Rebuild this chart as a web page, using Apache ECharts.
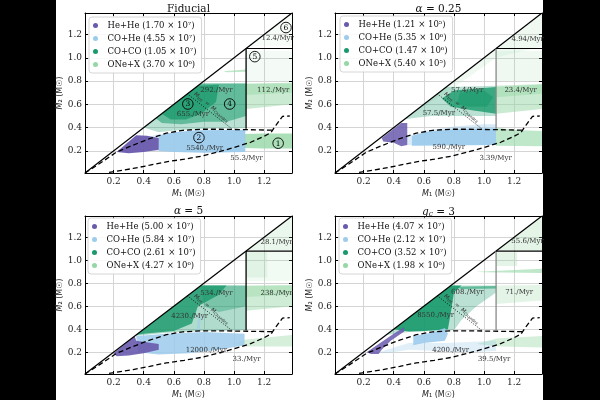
<!DOCTYPE html>
<html>
<head>
<meta charset="utf-8">
<script src="https://cdn.jsdelivr.net/npm/echarts@6/dist/echarts.min.js"></script>
<style>
html,body{margin:0;padding:0;background:#000;}
#paper{position:absolute;left:56px;top:0;width:487px;height:400px;background:#fff;}
#main{position:absolute;left:0;top:0;width:600px;height:400px;}
</style>
</head>
<body>
<div id="paper"></div>
<div id="main"></div>
<script>
// ---- data ----
var titles = ['Fiducial', '{i|α} = 0.25', '{i|α} = 5', '{i|q}{s|c} = 3'];
var popNames = ['He+He', 'CO+He', 'CO+CO', 'ONe+X'];
var popCounts = [
  ['1.70 × 10⁷', '4.55 × 10⁷', '1.05 × 10⁷', '3.70 × 10⁶'],
  ['1.21 × 10⁵', '5.35 × 10⁶', '1.47 × 10⁶', '5.40 × 10⁵'],
  ['5.00 × 10⁷', '5.84 × 10⁷', '2.61 × 10⁷', '4.27 × 10⁶'],
  ['4.07 × 10⁷', '2.12 × 10⁷', '3.52 × 10⁷', '1.98 × 10⁶']
];

// boundaries shared by all panels
var diagonal = [[0.01, 0.01], [1.385, 1.385]];
var upperBound = [[0.01, 0.01], [0.1, 0.085], [0.22, 0.19], [0.33, 0.25], [0.44, 0.305], [0.55, 0.352], [0.66, 0.377], [0.78, 0.386], [0.9, 0.386], [1.1, 0.382], [1.27, 0.378]];
var lowerBound = [[0.17, 0.015], [0.33, 0.049], [0.44, 0.077], [0.55, 0.106], [0.67, 0.129], [0.78, 0.154], [0.89, 0.19], [1.0, 0.229], [1.11, 0.274], [1.2, 0.326], [1.245, 0.357], [1.278, 0.42], [1.322, 0.497], [1.37, 0.5]];
var chandraLine = [[0.69, 0.69], [0.99, 0.385]];
var boxVert = [[1.08, 0.39], [1.08, 1.08]];
var boxHorz = [[1.08, 1.08], [1.385, 1.08]];
var chandraText = [0.85, 0.575];

// Fiducial regions
var fidONeLow = [[1.065, 0.225], [1.065, 0.345], [1.2, 0.35], [1.385, 0.35], [1.385, 0.22], [1.2, 0.22]];
var fidONeHigh = [[1.08, 0.56], [1.08, 0.78], [1.385, 0.785], [1.385, 0.6]];
var fidONeTop = [[1.08, 0.68], [1.08, 0.775], [1.385, 0.78], [1.385, 0.7]];
var fidONeBox = [[1.08, 0.8], [1.08, 1.06], [1.385, 1.06], [1.385, 0.8]];
var fidONeStreak = [[0.93, 0.885], [1.08, 0.9], [1.08, 0.88], [0.95, 0.875]];
var fidONeCorner = [[1.1, 1.1], [1.385, 1.385], [1.385, 1.1]];
var fidCOCOWide = [[0.4, 0.4], [0.78, 0.78], [1.08, 0.78], [1.08, 0.395], [0.8, 0.39], [0.6, 0.375], [0.5, 0.36]];
var fidCOCOMid = [[0.48, 0.48], [0.78, 0.78], [1.08, 0.78], [1.08, 0.5], [0.95, 0.45], [0.8, 0.45], [0.65, 0.43], [0.52, 0.44]];
var fidCOCOCore = [[0.52, 0.52], [0.76, 0.76], [0.9, 0.77], [0.88, 0.62], [0.78, 0.52], [0.68, 0.47], [0.58, 0.47]];
var fidCOHeFaint = [[0.28, 0.27], [0.5, 0.345], [0.5, 0.2], [0.34, 0.2]];
var fidCOHeMain = [[0.5, 0.335], [0.6, 0.36], [0.75, 0.377], [1.075, 0.382], [1.075, 0.19], [0.8, 0.185], [0.6, 0.19], [0.5, 0.2]];
var fidHeHe = [[0.22, 0.19], [0.35, 0.335], [0.42, 0.33], [0.5, 0.31], [0.5, 0.21], [0.4, 0.19], [0.3, 0.18]];

// alpha = 0.25 regions
var a025ONeLow = [[1.08, 0.245], [1.08, 0.4], [1.2, 0.38], [1.385, 0.37], [1.385, 0.24]];
var a025ONeHigh = [[1.08, 0.52], [1.08, 0.76], [1.385, 0.775], [1.385, 0.56]];
var a025ONeTop = [[1.08, 0.66], [1.08, 0.75], [1.385, 0.77], [1.385, 0.69]];
var a025ONeBox = [[1.08, 0.8], [1.08, 1.06], [1.385, 1.06], [1.385, 0.8]];
var a025ONeDiag = [[0.55, 0.55], [1.385, 1.385], [1.385, 1.1], [1.08, 1.0], [0.75, 0.7]];
var a025COCOWide = [[0.47, 0.47], [0.75, 0.75], [1.08, 0.76], [1.08, 0.5], [0.85, 0.5], [0.65, 0.5], [0.52, 0.48]];
var a025COCOCore = [[0.72, 0.65], [0.8, 0.72], [1.08, 0.75], [1.08, 0.52], [0.92, 0.55], [0.78, 0.58]];
var a025COCODense = [[0.82, 0.6], [0.84, 0.7], [1.0, 0.72], [1.06, 0.66], [1.02, 0.58], [0.9, 0.58]];
var a025COHeUpper = [[0.6, 0.37], [0.8, 0.41], [1.0, 0.43], [1.08, 0.43], [1.08, 0.38], [0.6, 0.35]];
var a025COHeMain = [[0.52, 0.33], [0.6, 0.36], [0.8, 0.385], [1.08, 0.395], [1.08, 0.25], [0.52, 0.245]];
var a025COHeLeft = [[0.42, 0.29], [0.52, 0.34], [0.52, 0.25], [0.45, 0.25]];
var a025HeHe = [[0.32, 0.31], [0.45, 0.44], [0.49, 0.44], [0.49, 0.25], [0.45, 0.24], [0.4, 0.27], [0.33, 0.28]];

// alpha = 5 regions
var a5ONeLow = [[1.0, 0.27], [1.08, 0.31], [1.385, 0.35], [1.385, 0.25], [1.08, 0.25]];
var a5ONeHigh = [[1.08, 0.56], [1.08, 0.78], [1.385, 0.785], [1.385, 0.6]];
var a5ONeTop = [[1.08, 0.68], [1.08, 0.775], [1.385, 0.78], [1.385, 0.7]];
var a5ONeBox = [[1.08, 0.82], [1.08, 1.075], [1.385, 1.075], [1.385, 0.82]];
var a5ONeBoxL = [[1.08, 0.85], [1.08, 1.07], [1.22, 1.07], [1.22, 0.85]];
var a5ONeCorner = [[1.085, 1.085], [1.385, 1.385], [1.385, 1.085]];
var a5COCOWide = [[0.34, 0.34], [0.78, 0.78], [1.08, 0.78], [1.08, 0.39], [0.8, 0.385], [0.55, 0.37]];
var a5COCOCore = [[0.35, 0.35], [0.78, 0.78], [0.95, 0.78], [0.9, 0.7], [0.76, 0.6], [0.72, 0.45], [0.6, 0.385], [0.4, 0.36]];
var a5COCORight = [[0.78, 0.78], [1.08, 0.78], [1.08, 0.6], [0.9, 0.55], [0.8, 0.6]];
var a5COHeMain = [[0.35, 0.34], [0.55, 0.36], [0.8, 0.375], [1.07, 0.36], [1.07, 0.26], [0.9, 0.22], [0.7, 0.19], [0.5, 0.18], [0.36, 0.2]];
var a5COHeStreak = [[0.75, 0.38], [0.77, 0.38], [0.78, 0.52], [0.765, 0.52]];
var a5HeHe = [[0.2, 0.19], [0.34, 0.34], [0.35, 0.3], [0.5, 0.27], [0.5, 0.22], [0.4, 0.19], [0.3, 0.17], [0.22, 0.165]];

// q_c = 3 regions
var qc3ONeLow = [[0.95, 0.27], [1.08, 0.32], [1.385, 0.34], [1.385, 0.24], [1.1, 0.25]];
var qc3ONeHigh = [[1.08, 0.62], [1.08, 0.78], [1.385, 0.785], [1.385, 0.65]];
var qc3ONeStreak = [[0.95, 0.9], [1.385, 0.925], [1.385, 0.89], [1.0, 0.895]];
var qc3ONeBox = [[1.08, 0.95], [1.08, 1.07], [1.22, 1.07], [1.22, 0.95]];
var qc3ONeCorner = [[1.085, 1.085], [1.385, 1.385], [1.385, 1.085]];
var qc3COCOWide = [[0.35, 0.35], [0.78, 0.78], [1.08, 0.78], [1.08, 0.72], [0.95, 0.6], [0.85, 0.48], [0.8, 0.39], [0.5, 0.375]];
var qc3COCOCore = [[0.4, 0.4], [0.78, 0.78], [0.85, 0.78], [0.8, 0.72], [0.78, 0.55], [0.76, 0.4], [0.6, 0.385], [0.5, 0.38]];
var qc3COCOStreak = [[0.8, 0.77], [1.08, 0.775], [1.08, 0.755], [0.85, 0.75]];
var qc3COHeFaint = [[0.3, 0.2], [0.5, 0.28], [0.75, 0.28], [1.08, 0.3], [1.08, 0.21], [0.9, 0.2], [0.7, 0.21], [0.5, 0.22], [0.35, 0.19]];
var qc3COHeMain = [[0.53, 0.26], [0.53, 0.34], [0.65, 0.37], [0.74, 0.41], [0.76, 0.36], [0.74, 0.3], [0.6, 0.28]];
var qc3HeHe = [[0.22, 0.2], [0.3, 0.27], [0.4, 0.36], [0.47, 0.42], [0.47, 0.38], [0.38, 0.3], [0.32, 0.22], [0.3, 0.185], [0.25, 0.185]];

// rate labels
var fidLabels = [[1.29, 1.165, '12.4/Myr'], [0.883, 0.725, '292./Myr'], [1.26, 0.725, '112./Myr'], [0.727, 0.512, '655./Myr'], [0.805, 0.223, '5540./Myr'], [1.083, 0.135, '55.3/Myr']];
var a025Labels = [[1.29, 1.157, '4.94/Myr'], [0.888, 0.72, '57.4/Myr'], [1.243, 0.72, '23.4/Myr'], [0.7, 0.523, '57.5/Myr'], [0.766, 0.229, '590./Myr'], [1.077, 0.137, '3.39/Myr']];
var a5Labels = [[1.283, 1.158, '28.1/Myr'], [0.883, 0.713, '534./Myr'], [1.283, 0.713, '238./Myr'], [0.705, 0.51, '4230./Myr'], [0.816, 0.22, '12000./Myr'], [1.083, 0.139, '33./Myr']];
var qc3Labels = [[1.289, 1.17, '55.6/Myr'], [0.889, 0.725, '608./Myr'], [1.233, 0.719, '71./Myr'], [0.678, 0.52, '8550./Myr'], [0.778, 0.22, '4200./Myr'], [1.067, 0.14, '39.5/Myr']];
var fidCircles = [[1.293, 0.266, '1'], [0.767, 0.314, '2'], [0.693, 0.603, '3'], [0.971, 0.603, '4'], [1.138, 1.01, '5'], [1.345, 1.26, '6']];

// ---- layout / style ----
var FONT = 'DejaVu Serif';
var popColors = ['#6a5aad', '#9ccbec', '#1a9a6c', '#95d7a5'];
var grids = [
  {left: 85, top: 13, width: 207, height: 160},
  {left: 335, top: 13, width: 207, height: 160},
  {left: 85, top: 216, width: 207, height: 160},
  {left: 335, top: 216, width: 207, height: 160}
];
var legendPos = [[89, 17], [340, 16], [88, 218], [339, 218]];
var titleTop = [3.5, 3.5, 205.5, 205.5];
var boxVertColor = ['#000', '#888', '#000', '#888'];

// [population, polygon, opacity]
var panelLayers = [
  [[3, fidONeLow, 0.8], [3, fidONeHigh, 0.5], [3, fidONeTop, 0.45], [3, fidONeBox, 0.1], [3, fidONeStreak, 0.6], [3, fidONeCorner, 0.08],
   [2, fidCOCOWide, 0.3], [2, fidCOCOMid, 0.55], [2, fidCOCOCore, 0.75],
   [1, fidCOHeFaint, 0.35], [1, fidCOHeMain, 0.95], [0, fidHeHe, 0.95]],
  [[3, a025ONeLow, 0.6], [3, a025ONeHigh, 0.5], [3, a025ONeTop, 0.45], [3, a025ONeBox, 0.15], [3, a025ONeDiag, 0.15],
   [2, a025COCOWide, 0.3], [2, a025COCOCore, 0.8], [2, a025COCODense, 0.6],
   [1, a025COHeUpper, 0.4], [1, a025COHeMain, 0.95], [1, a025COHeLeft, 0.35], [0, a025HeHe, 0.85]],
  [[3, a5ONeLow, 0.4], [3, a5ONeHigh, 0.45], [3, a5ONeTop, 0.4], [3, a5ONeBox, 0.12], [3, a5ONeBoxL, 0.2], [3, a5ONeCorner, 0.2],
   [2, a5COCOWide, 0.35], [2, a5COCOCore, 0.8], [2, a5COCORight, 0.35],
   [1, a5COHeMain, 0.85], [1, a5COHeStreak, 0.6], [0, a5HeHe, 0.9]],
  [[3, qc3ONeLow, 0.4], [3, qc3ONeHigh, 0.25], [3, qc3ONeStreak, 0.6], [3, qc3ONeBox, 0.25], [3, qc3ONeCorner, 0.25],
   [2, qc3COCOWide, 0.3], [2, qc3COCOCore, 0.9], [2, qc3COCOStreak, 0.55],
   [1, qc3COHeFaint, 0.3], [1, qc3COHeMain, 0.9], [0, qc3HeHe, 0.85]]
];
var panelLabels = [fidLabels, a025Labels, a5Labels, qc3Labels];

var chart = echarts.init(document.getElementById('main'));

function seriesName(p, k) {
  return popNames[k] + ' (' + popCounts[p][k] + ')';
}

var xAxes = [], yAxes = [], series = [], legends = [], titleOpts = [];
var tickLabel = {fontFamily: FONT, fontSize: 9, color: '#222', showMinLabel: false, showMaxLabel: false,
  formatter: function (v) { return v.toFixed(1); }};
var nameStyle = {fontFamily: 'DejaVu Sans', fontSize: 8, color: '#222',
  rich: {i: {fontStyle: 'italic', fontFamily: 'DejaVu Sans', fontSize: 8, color: '#222'}}};

for (var p = 0; p < 4; p++) {
  xAxes.push({type: 'value', gridIndex: p, min: 0.01, max: 1.385, splitNumber: 7, position: 'bottom',
    axisLine: {onZero: false, lineStyle: {color: '#000', width: 1}},
    axisTick: {inside: true, length: 3, lineStyle: {color: '#000'}},
    axisLabel: Object.assign({margin: 4}, tickLabel),
    splitLine: {show: true, lineStyle: {color: '#d4d4d4', width: 1}},
    name: '{i|M}₁ (M☉)', nameLocation: 'middle', nameGap: 17, nameTextStyle: nameStyle});
  yAxes.push({type: 'value', gridIndex: p, min: 0.01, max: 1.385, splitNumber: 7, position: 'left',
    axisLine: {onZero: false, lineStyle: {color: '#000', width: 1}},
    axisTick: {inside: true, length: 3, lineStyle: {color: '#000'}},
    axisLabel: Object.assign({margin: 3}, tickLabel),
    splitLine: {show: true, lineStyle: {color: '#d4d4d4', width: 1}},
    name: '{i|M}₂ (M☉)', nameLocation: 'middle', nameGap: 21, nameTextStyle: nameStyle});
}
for (p = 0; p < 4; p++) {
  xAxes.push({type: 'value', gridIndex: p, min: 0.01, max: 1.385, splitNumber: 7, position: 'top',
    axisLine: {onZero: false, lineStyle: {color: '#000', width: 1}},
    axisTick: {inside: true, length: 3, lineStyle: {color: '#000'}},
    axisLabel: {show: false}, splitLine: {show: false}});
  yAxes.push({type: 'value', gridIndex: p, min: 0.01, max: 1.385, splitNumber: 7, position: 'right',
    axisLine: {onZero: false, lineStyle: {color: '#000', width: 1}},
    axisTick: {inside: true, length: 3, lineStyle: {color: '#000'}},
    axisLabel: {show: false}, splitLine: {show: false}});
}

function polygonRender(layers) {
  return function (params, api) {
    var L = layers[params.dataIndex];
    var pts = L[1].map(function (pt) { return api.coord(pt); });
    return {type: 'polygon', shape: {points: pts}, silent: true,
      style: {fill: api.visual('color'), opacity: L[2]}};
  };
}

function lineSeries(p, data, color, type, width) {
  return {type: 'line', xAxisIndex: p, yAxisIndex: p, data: data, symbol: 'none', silent: true, z: 5,
    lineStyle: {color: color, type: type, width: width}};
}

for (p = 0; p < 4; p++) {
  [3, 2, 1, 0].forEach(function (k) {
    var layers = panelLayers[p].filter(function (L) { return L[0] === k; });
    series.push({type: 'custom', name: seriesName(p, k), xAxisIndex: p, yAxisIndex: p, clip: true,
      itemStyle: {color: popColors[k]},
      data: layers.map(function (L) { return L[1][0]; }),
      renderItem: polygonRender(layers)});
  });
  series.push(lineSeries(p, diagonal, '#000', 'solid', 1.2));
  series.push(lineSeries(p, upperBound, '#000', [5, 3], 1.3));
  series.push(lineSeries(p, lowerBound, '#000', [5, 3], 1.3));
  series.push(lineSeries(p, chandraLine, '#000', [1, 1.5], 0.8));
  series.push(lineSeries(p, boxVert, boxVertColor[p], 'solid', 1.3));
  series.push(lineSeries(p, boxHorz, '#000', 'solid', 1.2));

  (function (labels, pp) {
    series.push({type: 'custom', xAxisIndex: pp, yAxisIndex: pp, silent: true, z: 6,
      data: labels.map(function (l) { return [l[0], l[1]]; }),
      renderItem: function (params, api) {
        var c = api.coord([labels[params.dataIndex][0], labels[params.dataIndex][1]]);
        return {type: 'text', x: c[0], y: c[1], style: {text: labels[params.dataIndex][2], fill: '#333',
          font: '7px "DejaVu Serif"', align: 'center', verticalAlign: 'middle'}};
      }});
    series.push({type: 'custom', xAxisIndex: pp, yAxisIndex: pp, silent: true, z: 6,
      data: [chandraText],
      renderItem: function (params, api) {
        var c = api.coord(chandraText);
        return {type: 'text', x: c[0], y: c[1], rotation: -0.69,
          style: {text: '{m|M}{s|tot} {m|=} {m|M}{s|Chandra}', fill: '#333', align: 'center', verticalAlign: 'middle',
            rich: {m: {fontSize: 5.5, fontFamily: 'DejaVu Sans', fontStyle: 'italic', fill: '#333'},
                   s: {fontSize: 4, fontFamily: 'DejaVu Sans', fill: '#333', padding: [3, 0, 0, 0]}}}};
      }});
  })(panelLabels[p], p);

  legends.push({orient: 'vertical', left: legendPos[p][0], top: legendPos[p][1], selectedMode: false,
    data: [0, 1, 2, 3].map(function (k) { return seriesName(p, k); }),
    icon: 'circle', itemWidth: 14, itemHeight: 5, itemGap: 2, padding: [3, 5, 3, 4],
    backgroundColor: 'rgba(255,255,255,0.85)', borderColor: '#cccccc', borderWidth: 0.8, borderRadius: 3,
    textStyle: {fontFamily: FONT, fontSize: 8.5, color: '#111', lineHeight: 11}});

  titleOpts.push({text: titles[p], left: grids[p].left + grids[p].width / 2, top: titleTop[p], textAlign: 'center', padding: 0,
    textStyle: {fontFamily: FONT, fontSize: 10.5, fontWeight: 'normal', color: '#111',
      rich: {i: {fontFamily: FONT, fontStyle: 'italic', fontSize: 10.5, color: '#111'},
             s: {fontFamily: FONT, fontStyle: 'italic', fontSize: 7.5, color: '#111', padding: [5, 0, 0, 0]}}}});
}

// circled region numbers in the fiducial panel
series.push({type: 'custom', xAxisIndex: 0, yAxisIndex: 0, silent: true, z: 7,
  data: fidCircles.map(function (c) { return [c[0], c[1]]; }),
  renderItem: function (params, api) {
    var c = api.coord([fidCircles[params.dataIndex][0], fidCircles[params.dataIndex][1]]);
    return {type: 'group', children: [
      {type: 'circle', shape: {cx: c[0], cy: c[1], r: 5.3}, style: {fill: 'none', stroke: '#000', lineWidth: 0.9}},
      {type: 'text', x: c[0], y: c[1] + 0.5, style: {text: fidCircles[params.dataIndex][2], fill: '#000',
        font: '7.5px "DejaVu Serif"', align: 'center', verticalAlign: 'middle'}}
    ]};
  }});

chart.setOption({
  animation: false,
  backgroundColor: 'transparent',
  title: titleOpts,
  legend: legends,
  grid: grids,
  xAxis: xAxes,
  yAxis: yAxes,
  series: series
});
</script>
</body>
</html>
